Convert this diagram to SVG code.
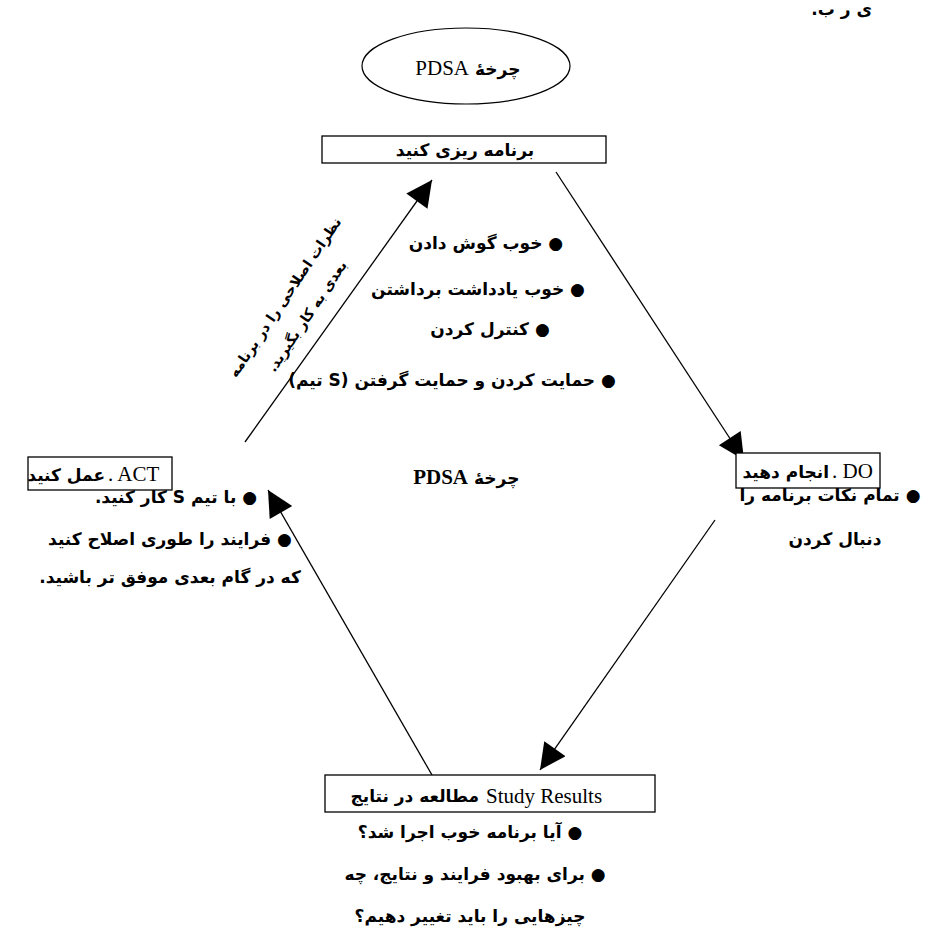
<svg xmlns="http://www.w3.org/2000/svg" width="929" height="946" viewBox="0 0 929 946">
<style>
.bg{fill:#fff}
.box{fill:#fff;stroke:#000;stroke-width:1.3}
.lat{font-family:"Liberation Serif","Times New Roman",serif;font-size:21px;fill:#000}
.arl{font-family:"DejaVu Sans","Noto Sans",sans-serif;font-size:17px;font-weight:bold;fill:#000}
.ar{font-family:"DejaVu Sans","Noto Sans",sans-serif;font-size:17px;font-weight:bold;fill:#000}
.rot{font-family:"DejaVu Sans","Noto Sans",sans-serif;font-size:14px;font-weight:bold;fill:#000}
.conn{stroke:#000;stroke-width:1.3;fill:none;marker-end:url(#ah)}
</style>
<defs>
<marker id="ah" viewBox="0 0 10 10" refX="10" refY="5" markerWidth="30" markerHeight="26" markerUnits="userSpaceOnUse" orient="auto">
<path d="M0,0 L10,5 L0,10 z" fill="#000"/>
</marker>
</defs>
<rect class="bg" x="0" y="0" width="929" height="946"/>
<text class="ar" x="872" y="15" direction="rtl" text-anchor="start" font-size="13">ی ر ب.</text>

<g id="connectors">
<line class="conn" x1="245" y1="442" x2="432" y2="180"/>
<line class="conn" x1="556" y1="172" x2="744" y2="460"/>
<line class="conn" x1="715" y1="520" x2="540" y2="770"/>
<line class="conn" x1="436" y1="782" x2="268" y2="490"/>
</g>

<g id="title">
<ellipse cx="466" cy="66" rx="104" ry="38" fill="none" stroke="#000" stroke-width="1.2"/>
<text class="lat" x="469" y="75" text-anchor="end" font-size="22">PDSA</text>
<text class="arl" x="475" y="75" text-anchor="start" font-weight="normal" font-size="19">چرخهٔ</text>
</g>

<g id="plan">
<rect class="box" x="322" y="136" width="284" height="27"/>
<text class="arl" x="465" y="156" text-anchor="middle" font-size="18">برنامه ریزی کنید</text>
<text class="ar" direction="rtl" x="486" y="249" text-anchor="middle">● خوب گوش دادن</text>
<text class="ar" direction="rtl" x="478" y="295" text-anchor="middle">● خوب یادداشت برداشتن</text>
<text class="ar" direction="rtl" x="490" y="335" text-anchor="middle">● کنترل کردن</text>
<text class="ar" direction="rtl" x="452" y="386" text-anchor="middle">● حمایت کردن و حمایت گرفتن (S تیم)</text>
</g>

<g id="feedback-label">
<text class="rot" direction="rtl" text-anchor="middle" transform="translate(289,300) rotate(-56)">نظرات اصلاحی را در برنامه</text>
<text class="rot" direction="rtl" text-anchor="middle" transform="translate(311,319) rotate(-56)">بعدی به کار بگیرید.</text>
</g>

<g id="center">
<text class="lat" x="468" y="484" text-anchor="end" font-weight="bold" font-size="19">PDSA</text>
<text class="arl" x="474" y="484" text-anchor="start" font-size="18">چرخهٔ</text>
</g>

<g id="act">
<rect class="box" x="28" y="457" width="144" height="33"/>
<text class="arl" x="105" y="481" text-anchor="end">عمل کنید</text>
<text class="lat" x="108" y="481" text-anchor="start">. ACT</text>
<text class="ar" direction="rtl" x="176" y="503" text-anchor="middle">● با تیم S کار کنید.</text>
<text class="ar" direction="rtl" x="170" y="545" text-anchor="middle">● فرایند را طوری اصلاح کنید</text>
<text class="ar" direction="rtl" x="170" y="583" text-anchor="middle">که در گام بعدی موفق تر باشید.</text>
</g>

<g id="do">
<rect class="box" x="736" y="453" width="144" height="35"/>
<text class="arl" x="829" y="478" text-anchor="end">انجام دهید</text>
<text class="lat" x="832" y="478" text-anchor="start">. DO</text>
<text class="ar" direction="rtl" x="830" y="501" text-anchor="middle">● تمام نکات برنامه را</text>
<text class="ar" direction="rtl" x="835" y="545" text-anchor="middle">دنبال کردن</text>
</g>

<g id="study">
<rect class="box" x="325" y="775" width="330" height="37"/>
<text class="arl" x="479" y="802" text-anchor="end" font-size="19">مطالعه در نتایج</text>
<text class="lat" x="486" y="803" text-anchor="start" font-size="26">Study Results</text>
<text class="ar" direction="rtl" x="470" y="838" text-anchor="middle">● آیا برنامه خوب اجرا شد؟</text>
<text class="ar" direction="rtl" x="475" y="880" text-anchor="middle">● برای بهبود فرایند و نتایج، چه</text>
<text class="ar" direction="rtl" x="470" y="922" text-anchor="middle">چیزهایی را باید تغییر دهیم؟</text>
</g>
</svg>
